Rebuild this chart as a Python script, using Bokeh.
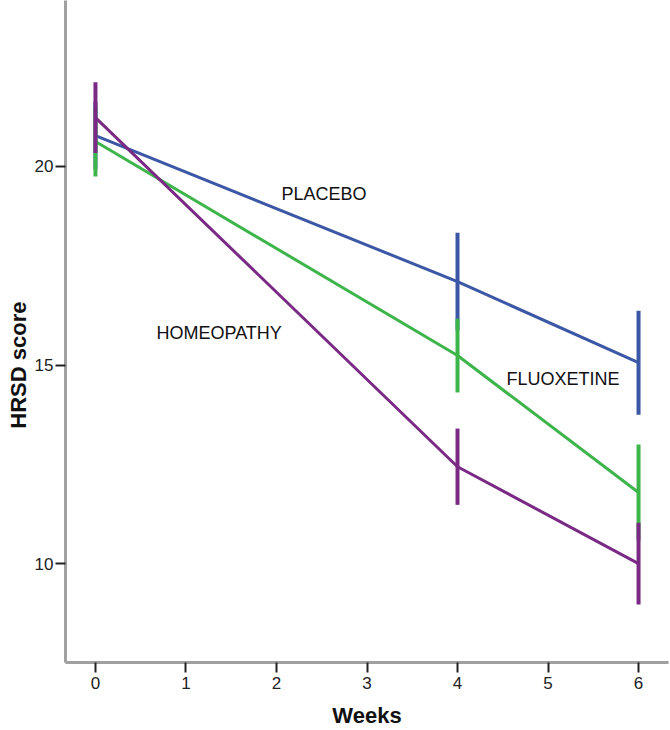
from bokeh.plotting import figure
from bokeh.models import Range1d, FixedTicker, Label
from bokeh.embed import file_html
from bokeh.resources import INLINE

# ---- data ----
weeks = [0, 4, 6]
groups = ["PLACEBO", "FLUOXETINE", "HOMEOPATHY"]
placebo_mean = [20.78, 17.10, 15.06]
placebo_err = [0.85, 1.23, 1.31]
fluoxetine_mean = [20.63, 15.24, 11.79]
fluoxetine_err = [0.88, 0.93, 1.21]
homeopathy_mean = [21.23, 12.44, 10.00]
homeopathy_err = [0.89, 0.96, 1.03]
x_ticks = [0, 1, 2, 3, 4, 5, 6]
y_ticks = [10, 15, 20]

colors = {"PLACEBO": "#3b57a6", "FLUOXETINE": "#3db54a", "HOMEOPATHY": "#7a2a84"}

p = figure(width=670, height=730, output_backend="svg", toolbar_location=None,
           x_range=Range1d(-0.331, 6.331), y_range=Range1d(7.51, 24.18),
           min_border_left=65, min_border_right=2, min_border_top=0, min_border_bottom=68)
p.outline_line_color = None
p.grid.visible = False
p.background_fill_color = "white"
p.border_fill_color = "white"

series = [
    ("PLACEBO", placebo_mean, placebo_err),
    ("FLUOXETINE", fluoxetine_mean, fluoxetine_err),
    ("HOMEOPATHY", homeopathy_mean, homeopathy_err),
]
for name, mean, err in series:
    c = colors[name]
    p.line(weeks, mean, line_color=c, line_width=3)
    lo = [m - e for m, e in zip(mean, err)]
    hi = [m + e for m, e in zip(mean, err)]
    p.segment(x0=weeks, y0=lo, x1=weeks, y1=hi, line_color=c, line_width=4)

# series labels
for txt, lx, ly in [("PLACEBO", 2.055, 19.32), ("HOMEOPATHY", 0.674, 15.80), ("FLUOXETINE", 4.54, 14.66)]:
    p.add_layout(Label(x=lx, y=ly, text=txt, text_font="Liberation Sans", text_font_size="18px",
                       text_color="#111111", text_baseline="alphabetic", text_align="left"))

for ax in (p.xaxis[0], p.yaxis[0]):
    ax.axis_line_color = "#a0a0a0"
    ax.axis_line_width = 3
    ax.major_tick_line_color = "#222222"
    ax.major_tick_line_width = 2
    ax.major_tick_in = 0
    ax.major_tick_out = 10
    ax.minor_tick_line_color = None
    ax.major_label_text_font = "Liberation Sans"
    ax.major_label_text_font_size = "17px"
    ax.major_label_text_color = "#222222"
    ax.axis_label_text_font = "Liberation Sans"
    ax.axis_label_text_font_style = "bold"
    ax.axis_label_text_font_size = "22px"
    ax.axis_label_text_color = "#111111"

p.xaxis.ticker = FixedTicker(ticks=x_ticks)
p.yaxis.ticker = FixedTicker(ticks=y_ticks)
p.xaxis.major_label_standoff = 4
p.yaxis.major_label_standoff = 2
p.xaxis.axis_label = "Weeks"
# trailing no-break spaces shift the visible title down, as in the reference
p.yaxis.axis_label = "HRSD score" + "\u00a0" * 11
p.xaxis.axis_label_standoff = 11
p.yaxis.axis_label_standoff = 1

open("out.html", "w").write(file_html(p, INLINE))
